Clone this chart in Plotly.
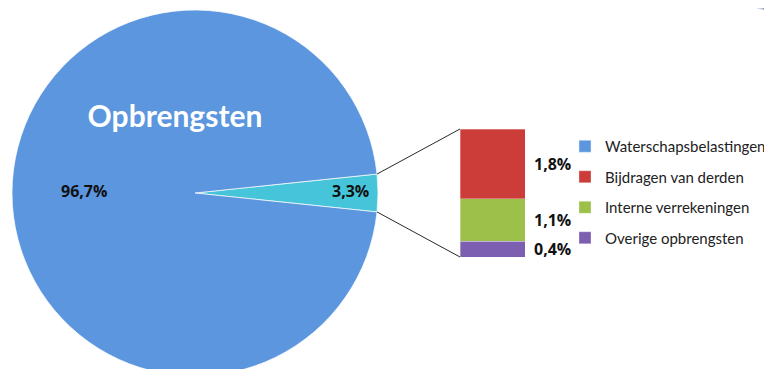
import math
import plotly.graph_objects as go

# ---- data ----
pie_labels = ["Overig", "Waterschapsbelastingen"]
pie_values = [3.3, 96.7]
pie_colors = ["#45C4DA", "#5B96DE"]

bar_labels = ["Overige opbrengsten", "Interne verrekeningen", "Bijdragen van derden"]
bar_values = [0.4, 1.1, 1.8]
bar_colors = ["#7C5FB0", "#9CC04A", "#CC3D39"]
legend_rank = [4, 3, 2]

chart_title = "Opbrengsten"

W, H = 772, 369
OFF = 8  # page body margin

# ---- geometry (page pixels) ----
cx, cy, r = 195, 193, 183          # pie centre / radius
bx0, bx1, by_top, by_bot = 460, 525, 129, 257   # bar box
label_r = [0.852, 0.607]           # label radius fraction per slice

def px(x):
    return (x - OFF) / W

def py(y):
    return 1 - (y - OFF) / H

fig = go.Figure()

total_pie = sum(pie_values)
other_share = pie_values[0] / total_pie
half_angle = other_share * 360 / 2

fig.add_trace(go.Pie(
    labels=pie_labels,
    values=pie_values,
    sort=False,
    direction="clockwise",
    rotation=90 - half_angle,
    marker=dict(colors=pie_colors, line=dict(color="rgba(255,255,255,0.7)", width=1)),
    textinfo="none",
    domain=dict(x=[px(cx - r), px(cx + r)], y=[max(0, py(cy + r)), min(1, py(cy - r))]),
    showlegend=False,
    hoverinfo="label+value",
))

# legend entry for the main pie slice
fig.add_trace(go.Bar(
    x=[None], y=[None], name=pie_labels[1],
    marker=dict(color=pie_colors[1]),
    xaxis="x", yaxis="y", legendrank=1, legendgroup="g0",
))

for lab, val, col, rank in zip(bar_labels, bar_values, bar_colors, legend_rank):
    fig.add_trace(go.Bar(
        x=[0], y=[val], name=lab, width=1,
        marker=dict(color=col, line=dict(color="rgba(255,255,255,0.5)", width=0.6)),
        xaxis="x", yaxis="y", legendrank=rank, legendgroup=lab,
        hoverinfo="name+y",
    ))

label_font = dict(family="Open Sans", size=16, color="#111111", weight="bold")
annotations = []

# pie slice labels placed at each slice's mid-angle
start = 90 - half_angle   # clockwise from 12 o'clock
cum = 0
for val, rf in zip(pie_values, label_r):
    mid = start + (cum + val / 2) / total_pie * 360
    cum += val
    ang = math.radians(mid)
    lx = cx + rf * r * math.sin(ang)
    ly = cy - rf * r * math.cos(ang) - 2
    annotations.append(dict(
        x=px(lx), y=py(ly), xref="paper", yref="paper", xanchor="center", yanchor="middle",
        text=f"{val:.1f}%".replace(".", ","), showarrow=False, font=label_font,
    ))

# bar value labels
cum = 0
for val in bar_values:
    mid = cum + val / 2
    cum += val
    annotations.append(dict(
        x=0.5, y=mid, xref="x", yref="y", xanchor="left", yanchor="middle",
        xshift=7, text=f"{val:.1f}%".replace(".", ","), showarrow=False, font=label_font,
    ))
total = cum

# connector lines from pie slice edge to bar corners
a = math.radians(half_angle)
ex = cx + r * math.cos(a)
shapes = [
    dict(type="line", xref="paper", yref="paper",
         x0=px(ex), y0=py(cy - r * math.sin(a)), x1=px(bx0), y1=py(by_top),
         line=dict(color="#2A2A2A", width=1)),
    dict(type="line", xref="paper", yref="paper",
         x0=px(ex), y0=py(cy + r * math.sin(a)), x1=px(bx0), y1=py(by_bot),
         line=dict(color="#2A2A2A", width=1)),
    # decorative fragment top right
    dict(type="circle", xref="paper", yref="paper",
         x0=px(715), x1=px(905), y0=py(15), y1=py(-75),
         fillcolor="#5E72A2", line=dict(color="#C8D0E0", width=1.5), layer="above"),
]

fig.update_layout(
    width=W, height=H,
    margin=dict(l=0, r=0, t=0, b=0),
    paper_bgcolor="white", plot_bgcolor="white",
    separators=",.",
    barmode="stack",
    title=dict(text=chart_title, x=px(175), y=py(116), xanchor="center", yanchor="middle",
               xref="paper", yref="paper",
               font=dict(family="Lato", size=30, color="white", weight="bold")),
    xaxis=dict(domain=[px(bx0), px(bx1)], range=[-0.5, 0.5], visible=False, fixedrange=True),
    yaxis=dict(domain=[py(by_bot), py(by_top)], range=[0, total], visible=False, fixedrange=True),
    legend=dict(x=px(565), y=py(130), xanchor="left", yanchor="top",
                traceorder="grouped", tracegroupgap=8, itemwidth=30,
                font=dict(family="Lato", size=15, color="#222222"),
                bgcolor="rgba(0,0,0,0)"),
    annotations=annotations,
    shapes=shapes,
    showlegend=True,
)

fig.write_html("out.html")
